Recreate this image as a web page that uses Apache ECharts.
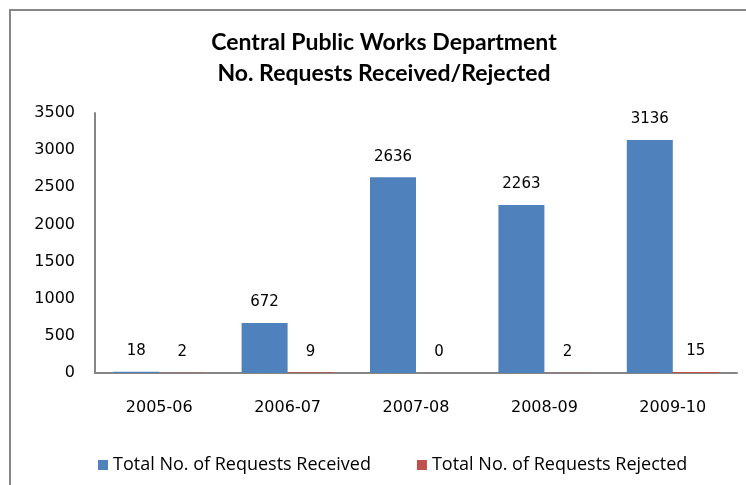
<!DOCTYPE html>
<html>
<head>
<meta charset="utf-8">
<script src="https://cdn.jsdelivr.net/npm/echarts@6/dist/echarts.min.js"></script>
<style>
  html, body { margin: 0; padding: 0; background: #fff; }
  #chart { width: 746px; height: 485px; }
</style>
</head>
<body>
<div id="chart"></div>
<script>
const years = ['2005-06', '2006-07', '2007-08', '2008-09', '2009-10']
const received = [18, 672, 2636, 2263, 3136]
const rejected = [2, 9, 0, 2, 15]

const chart = echarts.init(document.getElementById('chart'), null, { renderer: 'canvas' })

const labelStyle = {
  show: true,
  position: 'top',
  distance: 13,
  fontFamily: 'DejaVu Sans',
  fontSize: 15,
  color: '#000'
}

const option = {
  animation: false,
  backgroundColor: '#fff',
  title: {
    text: 'Central Public Works Department\nNo. Requests Received/Rejected',
    left: 379,
    textAlign: 'center',
    top: 22,
    textStyle: {
      fontFamily: 'Lato',
      fontWeight: 'bold',
      fontSize: 23,
      lineHeight: 31,
      color: '#000'
    }
  },
  graphic: [{
    type: 'rect',
    shape: { x: 10, y: 10, width: 800, height: 600 },
    style: { fill: 'none', stroke: '#868686', lineWidth: 2 },
    silent: true
  }],
  legend: {
    left: 93,
    top: 451,
    itemWidth: 10,
    itemHeight: 10,
    itemGap: 46,
    icon: 'rect',
    textStyle: { fontFamily: 'Open Sans', fontSize: 18, color: '#000' }
  },
  grid: { left: 95, right: 9, top: 113, bottom: 112 },
  xAxis: {
    type: 'category',
    data: years,
    axisLine: { lineStyle: { color: '#868686', width: 2 } },
    axisTick: { show: false },
    axisLabel: { margin: 27, fontFamily: 'DejaVu Sans', fontSize: 16, color: '#000' }
  },
  yAxis: {
    type: 'value',
    min: 0,
    max: 3500,
    interval: 500,
    axisLine: { show: true, lineStyle: { color: '#868686', width: 2 } },
    axisTick: { show: false },
    splitLine: { show: false },
    axisLabel: {
      margin: 20,
      fontFamily: 'DejaVu Sans',
      fontSize: 16,
      color: '#000',
      formatter: v => String(v)
    }
  },
  series: [
    {
      name: 'Total No. of Requests Received',
      type: 'bar',
      data: received,
      barWidth: 46,
      barGap: '0%',
      itemStyle: { color: '#4F81BD' },
      label: labelStyle
    },
    {
      name: 'Total No. of Requests Rejected',
      type: 'bar',
      data: rejected,
      barWidth: 46,
      itemStyle: { color: '#C0504D' },
      label: labelStyle
    }
  ]
}

chart.setOption(option)
</script>
</body>
</html>
